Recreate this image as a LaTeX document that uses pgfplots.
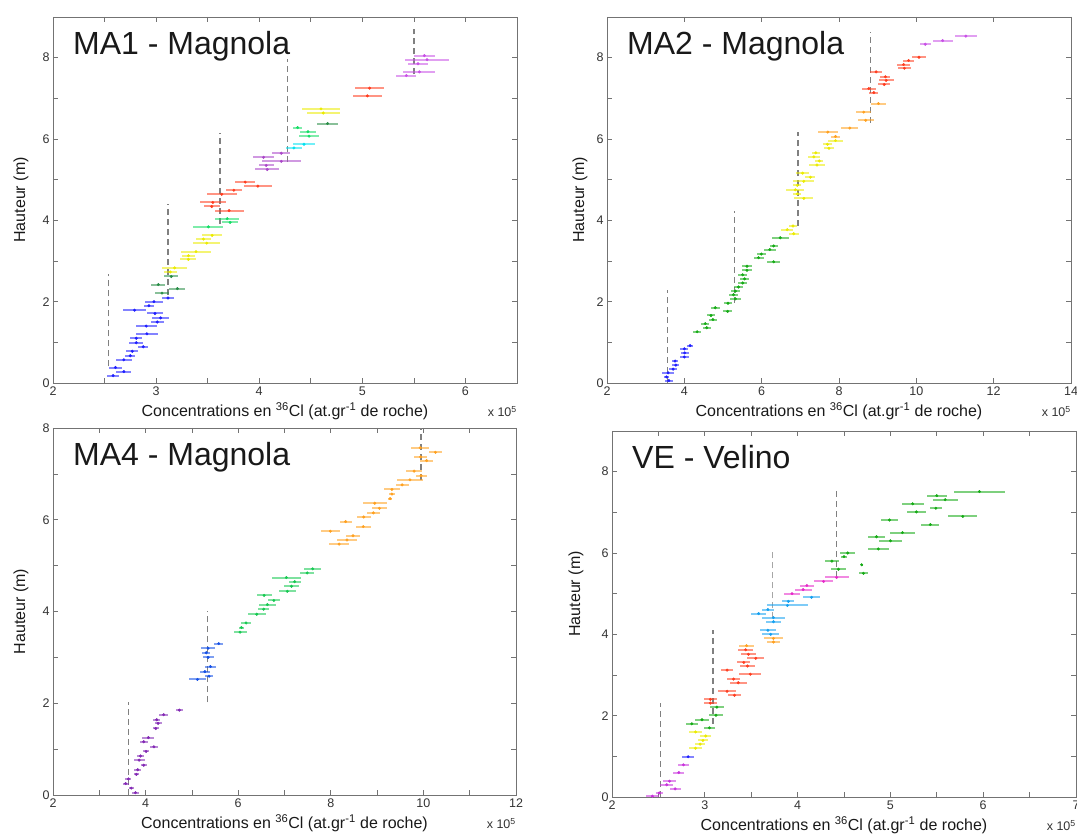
\documentclass[border=0pt]{standalone}
\usepackage{fontspec}
\setmainfont{Liberation Sans}
\usepackage{pgfplots}
\pgfplotsset{compat=1.18}
\definecolor{cblue}{RGB}{30,30,255}
\definecolor{cdkgreen}{RGB}{40,140,70}
\definecolor{cyellow}{RGB}{235,235,0}
\definecolor{cspring}{RGB}{20,220,100}
\definecolor{cred}{RGB}{255,60,30}
\definecolor{cpurple}{RGB}{170,70,200}
\definecolor{ccyan}{RGB}{0,225,240}
\definecolor{cviolet}{RGB}{200,80,230}
\definecolor{cgreen}{RGB}{20,170,20}
\definecolor{corange}{RGB}{255,160,30}
\definecolor{cpurple2}{RGB}{130,40,180}
\definecolor{cblue2}{RGB}{20,80,230}
\definecolor{cgreen2}{RGB}{20,200,80}
\definecolor{cmag}{RGB}{200,50,220}
\definecolor{cltblue}{RGB}{20,160,240}
\definecolor{cpink}{RGB}{230,40,200}
\pgfplotsset{
  panel/.style={scale only axis, width=464pt, height=366pt, anchor=south west,
    clip mode=individual,
    axis line style={draw=black!55, line width=0.9pt},
    tick style={draw=black!55, line width=0.7pt},
    tick align=inside, major tick length=5pt, minor tick length=5pt,
    tick label style={font=\fontsize{12.5}{13}\selectfont, text=black!80},
    /pgf/number format/assume math mode=true,
    xlabel={Concentrations en \textsuperscript{36}Cl (at.gr\textsuperscript{-1} de roche)},
    ylabel={Hauteur (m)},
    every axis x label/.style={at={(axis description cs:0.5,0)}, anchor=base, yshift=-34pt, font=\fontsize{16}{17}\selectfont, text=black!90},
    every axis y label/.style={at={(axis description cs:0,0.5)}, rotate=90, anchor=base, font=\fontsize{16}{17}\selectfont, text=black!90},
    ymin=0, ymax=9, ytick={0,2,4,6,8}, minor ytick={1,3,5,7},
  },
  grp/.style={only marks, mark=*, mark size=1.3pt, color=#1, mark options={draw=#1, fill=#1},
    error bars/.cd, x dir=both, x explicit, error mark=none,
    error bar style={line width=2pt, draw=#1, opacity=0.55}},
  dl/.style={draw=black!50, line width=1.4pt, dash pattern=on 6pt off 4pt},
}
\newcommand{\ttl}[1]{\node[anchor=north west, inner sep=0pt, font=\fontsize{32}{32}\selectfont, text=black!90, xshift=20pt, yshift=-14pt] at (rel axis cs:0,1) {#1};}
\newcommand{\xten}{\node[anchor=base east, inner sep=0pt, font=\fontsize{12.5}{13}\selectfont, text=black!80, yshift=-34pt] at (rel axis cs:1,0) {x 10\textsuperscript{5}};}
\begin{document}
\begin{tikzpicture}[x=1pt,y=1pt]
\useasboundingbox (0,0) rectangle (1077,837);
% ---------------- MA1 ----------------
\begin{axis}[panel, at={(53pt,454pt)}, xmin=2, xmax=6.5, xtick={2,3,4,5,6}, minor xtick={2.5,3.5,4.5,5.5},
  every axis y label/.append style={yshift=28pt}]
\addplot[dl] coordinates {(2.538,0.41)(2.538,2.67)};
\addplot[dl] coordinates {(3.115,2.17)(3.115,4.41)};
\addplot[dl] coordinates {(3.618,3.92)(3.618,6.15)};
\addplot[dl] coordinates {(4.276,5.43)(4.276,7.96)};
\addplot[dl] coordinates {(5.502,7.59)(5.502,8.71)};
\addplot[grp=cblue] coordinates {
(2.583,0.18)+-(0.057,0) (2.687,0.28)+-(0.073,0) (2.606,0.38)+-(0.06,0) (2.687,0.57)+-(0.08,0)
(2.749,0.67)+-(0.05,0) (2.768,0.78)+-(0.06,0) (2.875,0.89)+-(0.05,0) (2.807,0.99)+-(0.066,0)
(2.807,1.10)+-(0.06,0) (2.911,1.21)+-(0.11,0) (2.904,1.40)+-(0.10,0) (3.011,1.50)+-(0.063,0)
(3.044,1.60)+-(0.08,0) (2.989,1.71)+-(0.075,0) (2.791,1.79)+-(0.115,0) (2.930,1.90)+-(0.05,0)
(2.979,2.00)+-(0.09,0) (3.115,2.09)+-(0.06,0)};
\addplot[grp=cdkgreen] coordinates {
(3.057,2.21)+-(0.07,0) (3.206,2.32)+-(0.078,0) (3.021,2.42)+-(0.07,0) (3.147,2.62)+-(0.07,0)
(4.663,6.38)+-(0.104,0)};
\addplot[grp=cyellow] coordinates {
(3.138,2.73)+-(0.06,0) (3.18,2.83)+-(0.12,0) (3.313,3.04)+-(0.077,0) (3.313,3.13)+-(0.065,0)
(3.387,3.23)+-(0.15,0) (3.491,3.44)+-(0.13,0) (3.459,3.54)+-(0.073,0) (3.543,3.63)+-(0.096,0)
(4.621,6.64)+-(0.159,0) (4.599,6.74)+-(0.18,0)};
\addplot[grp=cspring] coordinates {
(3.507,3.84)+-(0.146,0) (3.718,3.95)+-(0.075,0) (3.689,4.04)+-(0.118,0)
(4.483,6.07)+-(0.094,0) (4.473,6.18)+-(0.078,0) (4.373,6.28)+-(0.042,0)};
\addplot[grp=cred] coordinates {
(3.708,4.24)+-(0.14,0) (3.540,4.34)+-(0.078,0) (3.55,4.44)+-(0.123,0) (3.637,4.64)+-(0.143,0)
(3.754,4.74)+-(0.076,0) (3.987,4.84)+-(0.138,0) (3.864,4.94)+-(0.096,0)
(5.049,7.06)+-(0.138,0) (5.071,7.25)+-(0.139,0)};
\addplot[grp=cpurple] coordinates {
(4.078,5.25)+-(0.118,0) (4.068,5.35)+-(0.073,0) (4.214,5.45)+-(0.19,0) (4.042,5.55)+-(0.103,0)
(4.214,5.65)+-(0.087,0)};
\addplot[grp=ccyan] coordinates {(4.337,5.78)+-(0.076,0) (4.434,5.87)+-(0.109,0)};
\addplot[grp=cviolet] coordinates {
(5.427,7.56)+-(0.097,0) (5.553,7.65)+-(0.154,0) (5.54,7.85)+-(0.1,0) (5.628,7.95)+-(0.214,0)
(5.602,8.05)+-(0.1,0)};
\ttl{MA1 - Magnola}
\xten
\end{axis}
% ---------------- MA2 ----------------
\begin{axis}[panel, at={(607pt,454pt)}, xmin=2, xmax=14, xtick={2,4,6,8,10,12,14},
  every axis y label/.append style={yshift=23pt}]
\addplot[dl] coordinates {(3.57,0)(3.57,2.28)};
\addplot[dl] coordinates {(5.30,1.97)(5.30,4.22)};
\addplot[dl] coordinates {(6.94,3.86)(6.94,6.17)};
\addplot[dl] coordinates {(8.81,6.40)(8.81,8.63)};
\addplot[grp=cblue] coordinates {
(3.60,0.06)+-(0.11,0) (3.54,0.15)+-(0.07,0) (3.58,0.25)+-(0.15,0) (3.71,0.34)+-(0.10,0)
(3.78,0.44)+-(0.09,0) (3.76,0.54)+-(0.08,0) (4.00,0.64)+-(0.11,0) (4.01,0.74)+-(0.10,0)
(4.00,0.84)+-(0.10,0) (4.15,0.92)+-(0.07,0)};
\addplot[grp=cgreen] coordinates {
(4.33,1.26)+-(0.095,0) (4.58,1.36)+-(0.10,0) (4.54,1.46)+-(0.10,0) (4.74,1.56)+-(0.095,0)
(4.69,1.66)+-(0.11,0) (5.12,1.76)+-(0.11,0) (4.80,1.85)+-(0.12,0) (5.13,1.96)+-(0.11,0)
(5.32,2.07)+-(0.14,0) (5.27,2.17)+-(0.12,0) (5.32,2.26)+-(0.12,0) (5.40,2.36)+-(0.11,0)
(5.51,2.46)+-(0.11,0) (5.56,2.56)+-(0.11,0) (5.51,2.66)+-(0.11,0) (5.62,2.77)+-(0.12,0)
(5.62,2.87)+-(0.14,0) (6.31,2.98)+-(0.16,0) (5.92,3.08)+-(0.13,0) (5.99,3.17)+-(0.11,0)
(6.21,3.28)+-(0.16,0) (6.31,3.37)+-(0.10,0) (6.48,3.57)+-(0.22,0)};
\addplot[grp=cyellow] coordinates {
(6.83,3.67)+-(0.125,0) (6.66,3.77)+-(0.15,0) (6.81,3.86)+-(0.11,0) (7.09,4.54)+-(0.25,0)
(6.92,4.65)+-(0.10,0) (6.87,4.75)+-(0.23,0) (6.92,4.86)+-(0.10,0) (7.09,4.96)+-(0.27,0)
(7.26,5.06)+-(0.13,0) (7.06,5.16)+-(0.17,0) (7.43,5.36)+-(0.21,0) (7.49,5.46)+-(0.10,0)
(7.35,5.56)+-(0.16,0) (7.40,5.66)+-(0.10,0) (7.74,5.77)+-(0.14,0) (7.70,5.87)+-(0.11,0)
(7.91,5.96)+-(0.19,0)};
\addplot[grp=corange] coordinates {
(7.91,6.06)+-(0.11,0) (7.71,6.17)+-(0.26,0) (8.28,6.27)+-(0.22,0) (8.69,6.46)+-(0.21,0)
(8.64,6.66)+-(0.19,0) (9.02,6.87)+-(0.19,0)};
\addplot[grp=cred] coordinates {
(8.90,7.14)+-(0.12,0) (8.77,7.24)+-(0.18,0) (9.17,7.34)+-(0.15,0) (9.22,7.44)+-(0.19,0)
(9.20,7.53)+-(0.13,0) (8.96,7.65)+-(0.15,0) (9.69,7.74)+-(0.16,0) (9.67,7.83)+-(0.17,0)
(9.80,7.93)+-(0.15,0) (10.07,8.01)+-(0.18,0)};
\addplot[grp=cviolet] coordinates {
(10.23,8.33)+-(0.14,0) (10.68,8.42)+-(0.26,0) (11.28,8.53)+-(0.29,0)};
\ttl{MA2 - Magnola}
\xten
\end{axis}
% ---------------- MA4 ----------------
\begin{axis}[panel, at={(53pt,42pt)}, height=367pt, width=463pt, xmin=2, xmax=12, xtick={2,4,6,8,10,12}, minor xtick={3,5,7,9,11},
  ymax=8, every axis y label/.append style={yshift=28pt}]
\addplot[dl] coordinates {(3.63,0)(3.63,2.02)};
\addplot[dl] coordinates {(5.34,2.02)(5.34,4.01)};
\addplot[dl] coordinates {(9.95,6.87)(9.95,8.0)};
\addplot[grp=cpurple2] coordinates {
(3.78,0.05)+-(0.07,0) (3.69,0.15)+-(0.05,0) (3.57,0.25)+-(0.065,0) (3.63,0.35)+-(0.065,0)
(3.80,0.45)+-(0.06,0) (3.83,0.55)+-(0.07,0) (3.96,0.65)+-(0.06,0) (3.86,0.76)+-(0.12,0)
(3.89,0.85)+-(0.065,0) (4.01,0.95)+-(0.07,0) (4.18,1.05)+-(0.09,0) (3.96,1.16)+-(0.09,0)
(4.06,1.25)+-(0.13,0) (4.22,1.45)+-(0.065,0) (4.27,1.56)+-(0.075,0) (4.24,1.64)+-(0.07,0)
(4.39,1.75)+-(0.09,0) (4.73,1.85)+-(0.08,0)};
\addplot[grp=cblue2] coordinates {
(5.12,2.52)+-(0.19,0) (5.37,2.59)+-(0.09,0) (5.28,2.69)+-(0.11,0) (5.40,2.80)+-(0.12,0)
(5.35,3.00)+-(0.12,0) (5.31,3.10)+-(0.09,0) (5.35,3.20)+-(0.15,0) (5.58,3.30)+-(0.10,0)};
\addplot[grp=cgreen2] coordinates {
(6.04,3.55)+-(0.14,0) (6.07,3.65)+-(0.06,0) (6.17,3.75)+-(0.11,0) (6.40,3.94)+-(0.19,0)
(6.55,4.05)+-(0.12,0) (6.63,4.15)+-(0.19,0) (6.77,4.24)+-(0.13,0) (6.56,4.35)+-(0.16,0)
(7.06,4.44)+-(0.18,0) (7.15,4.55)+-(0.17,0) (7.22,4.65)+-(0.13,0) (7.04,4.74)+-(0.31,0)
(7.49,4.84)+-(0.15,0) (7.61,4.93)+-(0.18,0)};
\addplot[grp=corange] coordinates {
(8.18,5.47)+-(0.22,0) (8.35,5.56)+-(0.21,0) (8.48,5.65)+-(0.16,0) (7.99,5.75)+-(0.20,0)
(8.70,5.85)+-(0.16,0) (8.32,5.96)+-(0.13,0) (8.71,6.06)+-(0.15,0) (8.92,6.15)+-(0.14,0)
(9.05,6.25)+-(0.17,0) (8.95,6.36)+-(0.26,0) (9.28,6.46)+-(0.04,0) (9.32,6.56)+-(0.06,0)
(9.32,6.66)+-(0.17,0) (9.54,6.76)+-(0.14,0) (9.71,6.87)+-(0.29,0) (9.95,6.96)+-(0.12,0)
(9.80,7.06)+-(0.17,0) (10.07,7.29)+-(0.14,0) (9.94,7.37)+-(0.14,0) (10.26,7.47)+-(0.14,0)
(9.93,7.57)+-(0.20,0)};
\ttl{MA4 - Magnola}
\xten
\end{axis}
% ---------------- VE ----------------
\begin{axis}[panel, at={(612pt,40pt)}, xmin=2, xmax=7, xtick={2,3,4,5,6,7}, minor xtick={2.5,3.5,4.5,5.5,6.5},
  every axis y label/.append style={yshift=32pt, xshift=20pt}]
\addplot[dl] coordinates {(2.525,0)(2.525,2.31)};
\addplot[dl] coordinates {(3.09,1.80)(3.09,4.10)};
\addplot[dl, draw=black!35, line width=1pt] coordinates {(3.73,4.39)(3.73,6.03)};
\addplot[dl] coordinates {(4.417,5.41)(4.417,7.59)};
\addplot[grp=cmag] coordinates {
(2.435,0.02)+-(0.07,0) (2.51,0.10)+-(0.04,0) (2.68,0.20)+-(0.06,0) (2.59,0.30)+-(0.07,0)
(2.62,0.39)+-(0.07,0) (2.72,0.60)+-(0.06,0) (2.77,0.79)+-(0.06,0)};
\addplot[grp=cblue] coordinates {(2.82,0.99)+-(0.065,0)};
\addplot[grp=cyellow] coordinates {
(2.90,1.20)+-(0.07,0) (2.95,1.30)+-(0.055,0) (2.98,1.39)+-(0.055,0) (3.01,1.50)+-(0.06,0)
(2.90,1.60)+-(0.07,0)};
\addplot[grp=cgreen] coordinates {
(3.05,1.70)+-(0.063,0) (2.86,1.80)+-(0.067,0) (2.97,1.90)+-(0.075,0) (3.12,2.01)+-(0.072,0)
(3.13,2.21)+-(0.075,0)};
\addplot[grp=cred] coordinates {
(3.06,2.31)+-(0.068,0) (3.06,2.40)+-(0.068,0) (3.32,2.50)+-(0.068,0) (3.24,2.60)+-(0.10,0)
(3.36,2.81)+-(0.09,0) (3.31,2.90)+-(0.068,0) (3.49,3.02)+-(0.12,0) (3.24,3.12)+-(0.063,0)
(3.46,3.22)+-(0.08,0) (3.42,3.31)+-(0.07,0) (3.55,3.41)+-(0.09,0) (3.47,3.51)+-(0.08,0)
(3.44,3.62)+-(0.08,0)};
\addplot[grp=corange] coordinates {
(3.45,3.72)+-(0.08,0) (3.74,3.81)+-(0.066,0) (3.74,3.90)+-(0.104,0)};
\addplot[grp=cltblue] coordinates {
(3.71,4.00)+-(0.09,0) (3.68,4.10)+-(0.09,0) (3.74,4.31)+-(0.083,0) (3.74,4.41)+-(0.12,0)
(3.58,4.51)+-(0.083,0) (3.68,4.61)+-(0.068,0) (3.89,4.71)+-(0.22,0) (3.90,4.81)+-(0.065,0)
(4.15,4.91)+-(0.09,0)};
\addplot[grp=cpink] coordinates {
(3.94,5.00)+-(0.083,0) (4.06,5.10)+-(0.09,0) (4.10,5.20)+-(0.077,0) (4.28,5.30)+-(0.1,0)
(4.42,5.40)+-(0.13,0)};
\addplot[grp=cgreen] coordinates {
(4.44,5.60)+-(0.08,0) (4.37,5.80)+-(0.08,0) (4.71,5.50)+-(0.05,0) (4.69,5.71)+-(0.005,0)
(4.50,5.91)+-(0.03,0) (4.54,6.00)+-(0.08,0) (4.87,6.10)+-(0.11,0) (5.00,6.30)+-(0.12,0)
(4.85,6.40)+-(0.09,0) (5.13,6.50)+-(0.13,0) (5.43,6.70)+-(0.095,0) (4.99,6.81)+-(0.095,0)
(5.78,6.90)+-(0.155,0) (5.28,7.01)+-(0.10,0) (5.49,7.10)+-(0.068,0) (5.24,7.21)+-(0.12,0)
(5.59,7.31)+-(0.135,0) (5.50,7.41)+-(0.106,0) (5.96,7.51)+-(0.275,0)};
\ttl{VE - Velino}
\xten
\end{axis}
\end{tikzpicture}
\end{document}
